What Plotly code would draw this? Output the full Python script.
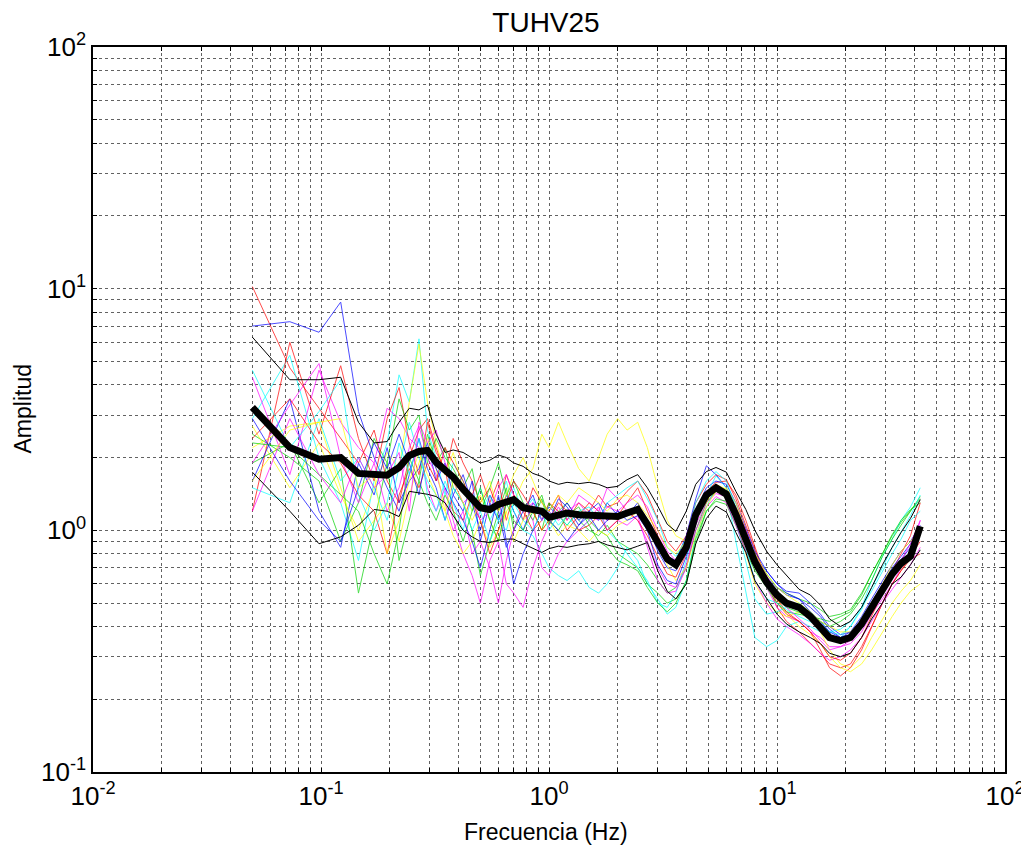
import math
import plotly.graph_objects as go

# frecuencias (Hz)
freq = [0.05, 0.073, 0.098, 0.122, 0.146, 0.171, 0.195, 0.22, 0.244, 0.269, 0.293,
        0.32, 0.35, 0.38, 0.42, 0.46, 0.5, 0.55, 0.6, 0.65, 0.7, 0.77, 0.85, 0.93, 1.0,
        1.1, 1.2, 1.35, 1.5, 1.65, 1.8, 2.0, 2.2, 2.45, 2.7,
        3.0, 3.3, 3.6, 4.0, 4.4, 4.9, 5.4, 6.0, 6.6, 7.3, 8.0, 9.0, 10, 11, 12.5, 14,
        15.5, 17, 19, 21, 23.5, 26, 29, 32, 35, 38.5, 42.5]

# ventanas individuales H/V
r1 = [10.2, 4.7, 3.2, 2.4, 1.9, 2.6, 1.6, 1.3, 2.0, 2.6, 2.9,
      2.2, 1.7, 2.4, 1.9, 1.6, 1.3, 1.5, 1.2, 1.7, 1.4, 1.1, 1.5, 1.3, 1.2, 1.4, 1.1, 1.3, 1.2, 1.4, 1.25, 1.3, 1.45, 1.6, 1.4,
      1.1, 0.9, 0.82, 0.95, 1.3, 1.55, 1.7, 1.62, 1.35, 1.05, 0.82, 0.62, 0.48, 0.42, 0.38, 0.34, 0.31, 0.28, 0.27, 0.28, 0.33, 0.4, 0.5, 0.6, 0.68, 0.78, 0.9]
g1 = [2.5, 2.0, 1.6, 0.9, 1.3, 2.4, 1.9, 0.75, 1.1, 1.6, 2.5,
      1.9, 2.2, 1.5, 1.3, 1.0, 0.65, 0.9, 1.2, 1.5, 1.0, 1.3, 1.1, 1.35, 1.05, 1.2, 1.3, 1.1, 1.0, 0.95, 1.05, 0.9, 0.85, 0.8, 0.72,
      0.62, 0.55, 0.58, 0.7, 1.0, 1.3, 1.45, 1.42, 1.2, 0.98, 0.8, 0.66, 0.58, 0.55, 0.52, 0.5, 0.47, 0.44, 0.45, 0.47, 0.55, 0.66, 0.8, 0.95, 1.08, 1.2, 1.35]
b1 = [7.0, 7.3, 6.6, 8.8, 3.1, 2.0, 1.5, 1.2, 1.7, 2.4, 1.8,
      1.5, 1.1, 1.4, 1.2, 1.6, 0.9, 1.3, 1.1, 1.4, 1.2, 1.0, 1.3, 1.2, 1.1, 1.35, 1.25, 1.05, 1.2, 1.1, 1.3, 1.15, 1.2, 1.25, 1.1,
      0.9, 0.78, 0.75, 0.95, 1.35, 1.85, 1.7, 1.5, 1.2, 0.95, 0.78, 0.68, 0.6, 0.56, 0.55, 0.5, 0.45, 0.4, 0.37, 0.38, 0.44, 0.52, 0.62, 0.72, 0.82, 0.9, 1.05]
c1 = [2.9, 5.3, 2.0, 1.3, 0.75, 1.6, 2.3, 4.4, 3.4, 6.2, 2.6,
      2.0, 1.4, 1.9, 1.6, 1.2, 1.5, 1.1, 1.3, 1.6, 1.2, 1.0, 0.95, 0.8, 0.7, 0.65, 0.62, 0.68, 0.58, 0.55, 0.6, 0.7, 0.85, 0.75, 0.6,
      0.52, 0.45, 0.48, 0.62, 0.95, 1.25, 1.5, 1.45, 0.9, 0.55, 0.36, 0.33, 0.35, 0.4, 0.42, 0.4, 0.38, 0.35, 0.36, 0.4, 0.48, 0.62, 0.78, 0.92, 1.1, 1.25, 1.5]
m1 = [4.3, 1.7, 4.6, 2.8, 2.2, 1.9, 3.2, 2.9, 2.4, 2.2, 1.5,
      1.2, 1.5, 1.1, 0.8, 0.65, 0.5, 0.75, 0.9, 0.6, 0.55, 0.48, 0.7, 0.9, 1.05, 1.25, 1.1, 1.4, 1.3, 1.2, 1.5, 1.35, 1.2, 1.1, 0.9,
      0.7, 0.6, 0.58, 0.72, 1.05, 1.3, 1.42, 1.38, 1.15, 0.9, 0.72, 0.58, 0.48, 0.44, 0.42, 0.38, 0.36, 0.33, 0.33, 0.34, 0.38, 0.45, 0.52, 0.6, 0.7, 0.8, 1.1]
y1 = [2.7, 1.5, 2.3, 1.4, 1.0, 1.5, 2.1, 1.8, 3.4, 5.9, 3.4,
      2.3, 1.7, 2.1, 1.5, 1.2, 1.4, 1.1, 0.9, 1.2, 1.3, 1.6, 1.8, 2.5, 2.2, 2.8, 2.3, 1.8, 1.6, 2.0, 2.5, 2.9, 2.6, 2.8, 2.2,
      1.5, 1.1, 0.95, 0.9, 1.15, 1.3, 1.55, 1.48, 1.1, 0.8, 0.6, 0.5, 0.46, 0.44, 0.46, 0.43, 0.38, 0.32, 0.28, 0.27, 0.3, 0.36, 0.43, 0.5, 0.56, 0.62, 0.72]
r2 = [1.2, 6.0, 2.5, 4.8, 2.4, 1.6, 2.9, 3.9, 2.3, 1.7, 2.8,
      2.1, 1.8, 1.2, 1.1, 1.4, 1.7, 1.3, 1.6, 1.1, 1.4, 1.2, 1.0, 1.1, 1.3, 1.2, 1.0, 1.15, 1.3, 1.2, 1.1, 1.15, 1.3, 1.5, 1.2,
      0.95, 0.8, 0.72, 0.9, 1.2, 1.45, 1.58, 1.6, 1.4, 1.1, 0.85, 0.62, 0.5, 0.45, 0.42, 0.38, 0.32, 0.27, 0.25, 0.27, 0.32, 0.4, 0.5, 0.6, 0.68, 0.76, 0.8]
g2 = [1.9, 2.3, 1.3, 1.8, 0.55, 1.1, 1.9, 3.5, 2.6, 3.0, 1.9,
      2.4, 2.0, 1.8, 1.5, 1.8, 1.2, 1.5, 1.9, 1.4, 1.6, 1.3, 1.2, 1.0, 1.3, 1.15, 1.05, 1.2, 1.1, 1.0, 0.95, 0.8, 0.75, 0.7, 0.6,
      0.55, 0.5, 0.52, 0.6, 0.88, 1.2, 1.32, 1.28, 1.05, 0.82, 0.68, 0.58, 0.5, 0.46, 0.45, 0.44, 0.42, 0.4, 0.42, 0.45, 0.52, 0.62, 0.78, 0.92, 1.05, 1.2, 1.38]
b2 = [1.6, 3.5, 1.2, 0.85, 1.9, 1.4, 2.2, 1.3, 1.6, 1.8, 2.3,
      1.6, 1.9, 1.4, 1.7, 1.3, 1.0, 1.4, 1.2, 0.85, 1.0, 1.2, 1.4, 1.1, 1.25, 1.15, 1.3, 1.1, 1.2, 1.3, 1.1, 1.2, 1.15, 1.3, 1.05,
      0.82, 0.7, 0.68, 0.85, 1.2, 1.5, 1.6, 1.55, 1.3, 1.02, 0.82, 0.68, 0.6, 0.55, 0.52, 0.48, 0.44, 0.39, 0.36, 0.38, 0.42, 0.5, 0.58, 0.68, 0.76, 0.85, 0.98]
c2 = [1.5, 1.3, 2.9, 1.6, 2.0, 1.5, 1.1, 1.8, 2.8, 2.0, 1.6,
      1.4, 1.1, 1.5, 1.3, 1.0, 1.2, 1.4, 1.1, 1.3, 1.5, 1.2, 1.35, 1.1, 1.2, 1.05, 1.15, 1.0, 1.1, 1.2, 1.0, 0.9, 0.8, 0.7, 0.62,
      0.5, 0.48, 0.55, 0.75, 1.1, 1.4, 1.68, 1.5, 1.1, 0.75, 0.52, 0.45, 0.46, 0.48, 0.5, 0.46, 0.42, 0.38, 0.37, 0.4, 0.47, 0.58, 0.7, 0.85, 0.98, 1.15, 1.4]
m2 = [1.9, 3.3, 4.9, 2.0, 1.3, 1.9, 1.2, 1.5, 2.2, 2.7, 2.0,
      1.7, 1.3, 1.0, 1.2, 0.8, 0.9, 0.7, 0.5, 0.75, 1.0, 1.3, 1.1, 0.7, 0.65, 0.8, 0.9, 1.0, 1.1, 1.25, 1.0, 1.1, 1.05, 1.15, 0.85,
      0.62, 0.55, 0.56, 0.7, 1.0, 1.25, 1.38, 1.3, 1.05, 0.82, 0.62, 0.5, 0.43, 0.4, 0.37, 0.34, 0.31, 0.29, 0.3, 0.32, 0.36, 0.42, 0.5, 0.57, 0.64, 0.72, 0.85]
y2 = [2.2, 2.7, 2.8, 1.5, 0.9, 1.1, 1.3, 0.9, 1.4, 1.9, 2.4,
      1.8, 1.2, 0.95, 0.8, 0.9, 1.1, 0.85, 1.0, 1.2, 0.9, 1.1, 1.2, 1.0, 1.1, 0.95, 1.05, 1.0, 0.9, 1.0, 0.95, 1.05, 1.1, 1.2, 1.1,
      0.9, 0.72, 0.62, 0.7, 0.95, 1.25, 1.45, 1.5, 1.3, 1.0, 0.78, 0.62, 0.52, 0.45, 0.4, 0.37, 0.34, 0.3, 0.27, 0.26, 0.28, 0.32, 0.38, 0.44, 0.5, 0.56, 0.6]
r3 = [2.4, 3.5, 2.3, 1.9, 1.4, 1.2, 0.8, 1.4, 1.8, 1.5, 1.9,
      1.6, 2.2, 1.9, 1.6, 1.3, 1.1, 0.8, 1.0, 1.3, 1.6, 1.4, 1.2, 1.0, 1.1, 1.3, 1.2, 1.0, 1.05, 1.15, 1.0, 1.1, 1.2, 1.1, 0.95,
      0.78, 0.66, 0.64, 0.8, 1.15, 1.42, 1.5, 1.45, 1.25, 1.0, 0.78, 0.62, 0.52, 0.46, 0.42, 0.38, 0.34, 0.3, 0.29, 0.31, 0.36, 0.44, 0.55, 0.68, 0.8, 0.95, 1.3]
g3 = [2.3, 2.2, 1.7, 1.4, 1.2, 0.8, 0.6, 1.0, 2.0, 1.6, 1.3,
      1.1, 1.4, 1.2, 0.9, 1.2, 1.5, 1.1, 0.9, 1.3, 1.1, 1.0, 1.2, 1.4, 1.1, 1.0, 1.15, 1.25, 1.05, 0.9, 0.85, 0.75, 0.72, 0.68, 0.58,
      0.5, 0.46, 0.5, 0.62, 0.92, 1.2, 1.35, 1.32, 1.12, 0.9, 0.72, 0.6, 0.52, 0.48, 0.46, 0.44, 0.43, 0.42, 0.44, 0.46, 0.54, 0.66, 0.8, 0.96, 1.1, 1.22, 1.3]
b3 = [2.9, 1.6, 1.1, 0.9, 1.5, 2.3, 1.8, 2.5, 1.9, 1.4, 2.2,
      1.8, 1.5, 1.3, 1.1, 0.9, 0.7, 1.0, 1.4, 0.9, 0.6, 0.8, 1.0, 1.2, 1.1, 1.0, 0.9, 1.05, 1.15, 1.0, 1.1, 1.2, 1.1, 1.15, 1.0,
      0.72, 0.62, 0.6, 0.78, 1.1, 1.45, 1.52, 1.45, 1.22, 0.95, 0.76, 0.64, 0.58, 0.54, 0.52, 0.46, 0.42, 0.38, 0.36, 0.37, 0.42, 0.5, 0.6, 0.7, 0.78, 0.88, 1.02]
c3 = [4.6, 2.2, 3.1, 4.2, 1.4, 1.0, 1.3, 2.3, 1.7, 2.4, 1.4,
      1.2, 1.6, 1.3, 1.0, 1.4, 1.2, 0.9, 1.1, 1.0, 1.3, 1.1, 1.0, 1.2, 1.0, 1.15, 1.05, 1.2, 1.25, 1.1, 1.3, 1.4, 1.5, 1.6, 1.35,
      1.1, 0.85, 0.78, 0.92, 1.3, 1.6, 1.75, 1.6, 1.25, 0.85, 0.62, 0.52, 0.5, 0.47, 0.44, 0.42, 0.4, 0.38, 0.39, 0.42, 0.48, 0.56, 0.68, 0.8, 0.92, 1.1, 1.2]
m3 = [1.2, 2.9, 1.7, 1.3, 2.0, 1.5, 1.7, 2.1, 1.2, 2.8, 2.3,
      2.6, 1.9, 1.6, 1.3, 1.4, 1.1, 1.2, 1.5, 1.7, 1.4, 1.2, 1.3, 1.1, 1.2, 1.1, 1.2, 1.3, 1.15, 1.1, 1.25, 1.2, 1.3, 1.4, 1.25,
      1.0, 0.82, 0.75, 0.85, 1.15, 1.35, 1.45, 1.4, 1.22, 1.0, 0.8, 0.65, 0.55, 0.48, 0.43, 0.39, 0.35, 0.32, 0.33, 0.35, 0.4, 0.47, 0.56, 0.66, 0.75, 0.88, 1.1]
y3 = [1.6, 2.6, 2.8, 2.9, 1.5, 1.7, 0.8, 1.1, 1.6, 2.1, 1.7,
      1.4, 1.2, 1.6, 1.3, 1.1, 1.3, 1.6, 1.2, 1.4, 1.7, 2.0, 1.6, 1.3, 1.2, 1.4, 1.3, 1.5, 1.4, 1.3, 1.2, 1.35, 1.4, 1.3, 1.15,
      1.0, 0.85, 0.8, 0.9, 1.1, 1.35, 1.45, 1.4, 1.2, 0.98, 0.8, 0.66, 0.58, 0.54, 0.5, 0.46, 0.42, 0.4, 0.38, 0.38, 0.42, 0.5, 0.6, 0.72, 0.82, 0.9, 1.0]

# promedio y +/- desviacion
hv_mean = [3.23, 2.2, 1.97, 2.0, 1.72, 1.69, 1.69, 1.82, 2.04, 2.12, 2.14,
           1.91, 1.79, 1.66, 1.48, 1.34, 1.24, 1.22, 1.28, 1.31, 1.34, 1.24, 1.22, 1.2, 1.13,
           1.15, 1.18, 1.16, 1.15, 1.16, 1.14, 1.14, 1.18, 1.22, 1.06,
           0.875, 0.76, 0.72, 0.85, 1.16, 1.40, 1.50, 1.41, 1.16, 0.92, 0.74, 0.61, 0.54, 0.50, 0.48, 0.44,
           0.40, 0.36, 0.35, 0.36, 0.41, 0.48, 0.57, 0.66, 0.73, 0.78, 1.04]
hv_up = [6.3, 4.2, 4.2, 4.3, 2.8, 2.3, 2.33, 2.8, 3.2, 3.15, 3.3,
         2.5, 2.1, 2.15, 2.1, 2.0, 1.9, 1.95, 2.05, 2.0, 1.9, 1.84, 1.72, 1.67, 1.6,
         1.55, 1.58, 1.56, 1.58, 1.55, 1.5, 1.52, 1.62, 1.7, 1.5,
         1.26, 1.06, 0.99, 1.2, 1.55, 1.75, 1.82, 1.74, 1.45, 1.22, 1.0, 0.82, 0.72, 0.65, 0.57, 0.54,
         0.49, 0.43, 0.40, 0.42, 0.48, 0.58, 0.72, 0.85, 0.98, 1.12, 1.34]
hv_lo = [1.74, 1.2, 0.88, 0.94, 1.05, 1.22, 1.2, 1.14, 1.45, 1.43, 1.41,
         1.38, 1.3, 1.15, 1.0, 0.94, 0.9, 0.89, 0.91, 0.92, 0.92, 0.88, 0.84, 0.81, 0.84,
         0.86, 0.85, 0.87, 0.88, 0.9, 0.87, 0.85, 0.83, 0.86, 0.89,
         0.68, 0.56, 0.52, 0.6, 0.88, 1.12, 1.26, 1.19, 0.98, 0.81, 0.62, 0.52, 0.45, 0.41, 0.38, 0.36,
         0.34, 0.31, 0.30, 0.31, 0.36, 0.43, 0.5, 0.6, 0.64, 0.72, 0.83]

windows = [r1, g1, b1, c1, m1, y1, r2, g2, b2, c2, m2, y2, r3, g3, b3, c3, m3, y3]
colors = ['rgb(255,0,0)', 'rgb(0,210,0)', 'rgb(0,0,255)', 'rgb(0,255,255)', 'rgb(255,0,255)', 'rgb(255,255,0)']

# ejes: ticks en 1..9 de cada decada, etiqueta solo en las decadas
x_ticks = [m * 10.0 ** e for e in range(-2, 2) for m in range(1, 10)] + [100]
y_ticks = [m * 10.0 ** e for e in range(-1, 2) for m in range(1, 10)] + [100]


def dec_label(v):
    e = round(math.log10(v))
    return '10<sup>%d</sup>' % e if abs(v - 10.0 ** e) < 1e-9 * v else ''


x_text = [dec_label(v) for v in x_ticks]
y_text = [dec_label(v) for v in y_ticks]

fig = go.Figure()
for i, w in enumerate(windows):
    fig.add_trace(go.Scatter(x=freq, y=w, mode='lines',
                             line=dict(color=colors[i % 6], width=1), opacity=0.7))
fig.add_trace(go.Scatter(x=freq, y=hv_up, mode='lines', line=dict(color='black', width=1)))
fig.add_trace(go.Scatter(x=freq, y=hv_lo, mode='lines', line=dict(color='black', width=1)))
fig.add_trace(go.Scatter(x=freq, y=hv_mean, mode='lines', line=dict(color='black', width=7)))

font = "Liberation Sans, Arial, sans-serif"
axis_common = dict(type='log', showline=True, linecolor='black', linewidth=1.5, mirror='ticks',
                   ticks='inside', ticklen=4, tickcolor='black', automargin=False,
                   showgrid=True, gridcolor='rgba(70,70,70,0.85)', griddash='dot', gridwidth=1,
                   zeroline=False, tickfont=dict(size=26, color='black', family=font))

fig.update_xaxes(range=[-2, 2], tickvals=x_ticks, ticktext=x_text, **axis_common)
fig.update_yaxes(range=[-1, 2], tickvals=y_ticks, ticktext=y_text, **axis_common)

# la pagina deja 8 px de margen en body: figura reducida para caber en la ventana
W, H = 1021, 843
fig.update_layout(width=W, height=H, showlegend=False,
                  margin=dict(l=85, r=24, t=39, b=79),
                  plot_bgcolor='white', paper_bgcolor='white',
                  title=dict(text='TUHV25', x=538 / W, xanchor='center', y=1 - 14 / H, yanchor='middle',
                             font=dict(size=28, color='black', family=font)),
                  annotations=[
                      dict(text='Frecuencia (Hz)', xref='paper', yref='paper', x=0.497, y=-60 / 725,
                           xanchor='center', yanchor='middle', showarrow=False,
                           font=dict(size=23, color='black', family=font)),
                      dict(text='Amplitud', xref='paper', yref='paper', x=-71 / 912, y=0.5,
                           xanchor='center', yanchor='middle', showarrow=False, textangle=-90,
                           font=dict(size=23, color='black', family=font)),
                  ])

fig.write_html("out.html")
